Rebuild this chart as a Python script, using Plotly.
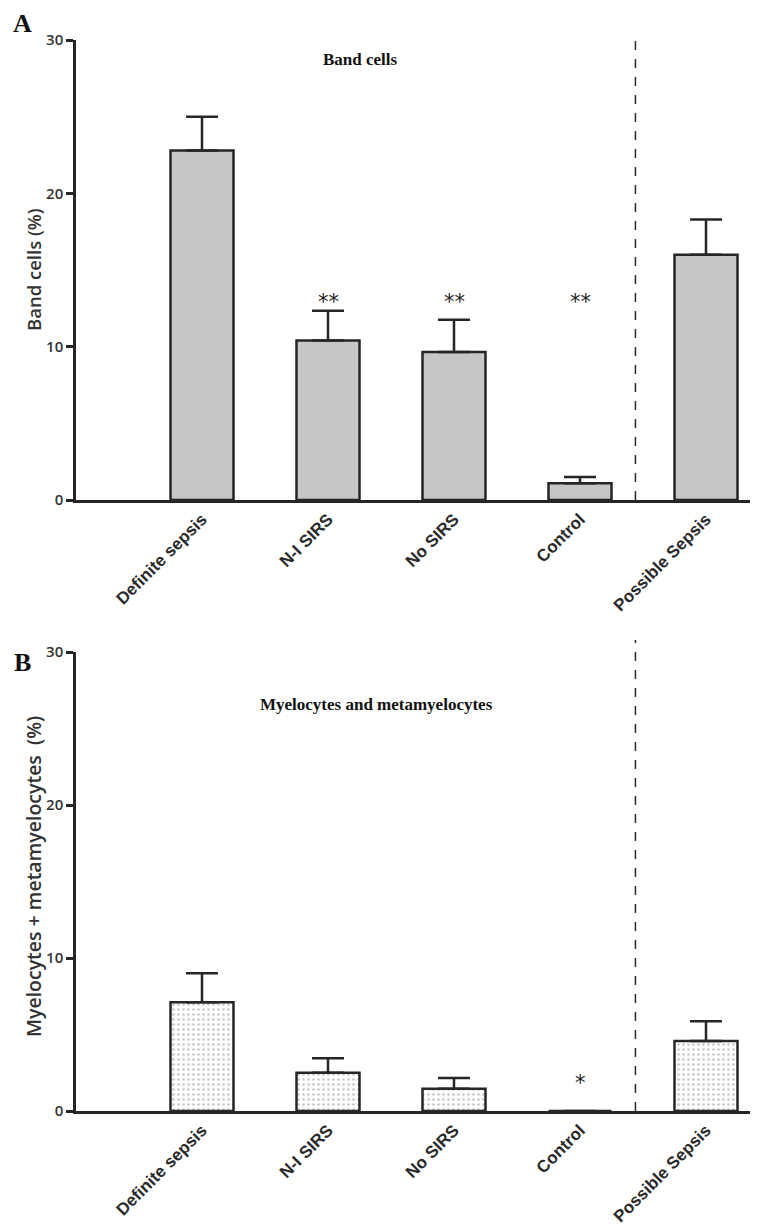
import plotly.graph_objects as go
from plotly.subplots import make_subplots

categories = ["Definite sepsis", "N-I SIRS", "No SIRS", "Control", "Possible Sepsis"]

band_mean = [22.8, 10.4, 9.65, 1.1, 16.0]
band_err = [2.2, 1.95, 2.1, 0.4, 2.3]
band_sig = ["", "**", "**", "**", ""]
band_sig_y = [None, 12.9, 12.9, 12.9, None]

myelo_mean = [7.1, 2.5, 1.45, 0.0, 4.57]
myelo_err = [1.9, 0.95, 0.7, 0.0, 1.3]
myelo_sig = ["", "", "", "*", ""]
myelo_sig_y = [None, None, None, 1.85, None]

# page body has an 8px margin: the figure starts at (8, 8) in the window
OFF = 8
W, H = 750, 1217
def px(p):
    return (p - OFF) / W
def py(p):
    return 1 - (p - OFF) / H

fig = make_subplots(rows=2, cols=1)

xpos = list(range(len(categories)))
line_col = "#262626"

fig.add_trace(go.Bar(
    x=xpos, y=band_mean, width=0.5,
    marker=dict(color="#c6c6c6", line=dict(color=line_col, width=2.5)),
    error_y=dict(type="data", symmetric=False, array=band_err,
                 arrayminus=[0]*len(band_err), color=line_col, thickness=2.5, width=16),
    showlegend=False), row=1, col=1)

fig.add_trace(go.Bar(
    x=xpos, y=myelo_mean, width=0.5,
    marker=dict(color="white", line=dict(color=line_col, width=2.5),
                pattern=dict(shape=".", fgcolor="#8f8f8f", bgcolor="#fdfdfd",
                             size=5, solidity=0.22)),
    error_y=dict(type="data", symmetric=False, array=myelo_err,
                 arrayminus=[0]*len(myelo_err), color=line_col, thickness=2.5, width=16),
    showlegend=False), row=2, col=1)

x_dom = [px(76), 1.0]
domA = [py(500), py(40)]
domB = [py(1111), py(652)]
x_max = -1 + (758 - 76) / 126.0

tickfont = dict(family="Open Sans", size=15, color="#333333", weight=600)
catfont = dict(family="Liberation Sans", size=17, color="#2a2a2a", weight="bold")
for r, dom in ((1, domA), (2, domB)):
    fig.update_xaxes(row=r, col=1, domain=x_dom, range=[-1, x_max], automargin=False,
                     tickmode="array", tickvals=xpos, ticktext=categories,
                     tickangle=-45, ticks="", showline=True, linecolor=line_col,
                     linewidth=2.5, showgrid=False, zeroline=False, tickfont=catfont)
    fig.update_yaxes(row=r, col=1, domain=dom, range=[0, 30], automargin=False,
                     tickvals=[0, 10, 20, 30], ticks="outside", ticklen=7,
                     tickwidth=2.5, tickcolor=line_col, showline=True,
                     linecolor=line_col, linewidth=2.5, showgrid=False,
                     zeroline=False, tickfont=tickfont)

# y-axis titles
fig.add_annotation(x=px(33), y=py(270), xref="paper", yref="paper", text="Band cells (%)",
                   textangle=-90, showarrow=False, xanchor="center", yanchor="middle",
                   font=dict(family="Open Sans", size=18.5, color="#333333", weight=600))
fig.add_annotation(x=px(33), y=py(877), xref="paper", yref="paper",
                   text="Myelocytes + metamyelocytes  (%)", textangle=-90, showarrow=False,
                   xanchor="center", yanchor="middle",
                   font=dict(family="Open Sans", size=19.5, color="#333333", weight=600))

# significance markers
for i, (s, yv) in enumerate(zip(band_sig, band_sig_y)):
    if s:
        fig.add_annotation(x=i, y=yv, xref="x", yref="y", text=s, showarrow=False,
                           xanchor="center", yanchor="middle",
                           font=dict(family="DejaVu Sans", size=21, color="#222222"))
for i, (s, yv) in enumerate(zip(myelo_sig, myelo_sig_y)):
    if s:
        fig.add_annotation(x=i, y=yv, xref="x2", yref="y2", text=s, showarrow=False,
                           xanchor="center", yanchor="middle",
                           font=dict(family="DejaVu Sans", size=21, color="#222222"))

# dashed separators
fig.add_shape(type="line", xref="x", yref="paper", x0=3.44, x1=3.44,
              y0=py(500), y1=py(37), line=dict(color=line_col, width=1.5, dash="dash"))
fig.add_shape(type="line", xref="x2", yref="paper", x0=3.44, x1=3.44,
              y0=py(1111), y1=py(640), line=dict(color=line_col, width=1.5, dash="dash"))

# panel titles and letters
title_font = dict(family="Liberation Serif", size=17, color="#111111")
fig.add_annotation(x=px(360), y=py(60), xref="paper", yref="paper", text="<b>Band cells</b>",
                   showarrow=False, xanchor="center", yanchor="middle", font=title_font)
fig.add_annotation(x=px(376), y=py(704), xref="paper", yref="paper",
                   text="<b>Myelocytes and metamyelocytes</b>", showarrow=False,
                   xanchor="center", yanchor="middle", font=title_font)
letter_font = dict(family="Liberation Serif", size=26, color="#111111")
fig.add_annotation(x=px(22), y=py(24), xref="paper", yref="paper", text="<b>A</b>",
                   showarrow=False, xanchor="center", yanchor="middle", font=letter_font,
                   borderpad=0)
fig.add_annotation(x=px(22), y=py(662), xref="paper", yref="paper", text="<b>B</b>",
                   showarrow=False, xanchor="center", yanchor="middle", font=letter_font,
                   borderpad=0)

fig.update_layout(width=W, height=H, margin=dict(l=0, r=0, t=0, b=0),
                  plot_bgcolor="white", paper_bgcolor="white", bargap=0.5)

fig.write_html("out.html")
